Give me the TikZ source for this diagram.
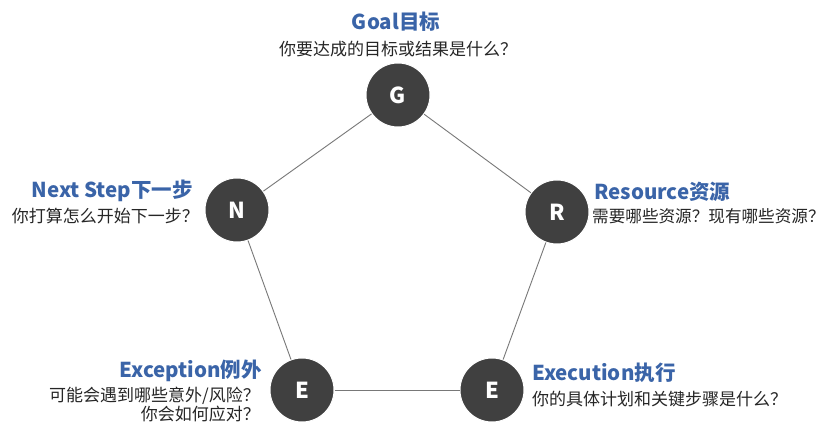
\documentclass[tikz,border=0pt]{standalone}
\usepackage{fontspec}
\setmainfont{Noto Sans CJK SC}
\newfontfamily\cjk{Noto Sans CJK SC}
\definecolor{ttl}{RGB}{58,100,168}
\definecolor{disc}{RGB}{64,64,64}
\definecolor{edge}{RGB}{120,120,120}
\begin{document}
\begin{tikzpicture}[x=1pt,y=-1pt,
  dot/.style={circle,fill=disc,draw=white,line width=1pt,minimum size=64pt,inner sep=0pt,text=white,font=\cjk\bfseries\fontsize{22}{22}\selectfont},
  head/.style={inner sep=0pt,text=ttl,font=\cjk\bfseries\fontsize{20.5}{20.5}\selectfont},
  sub/.style={inner sep=0pt,text=black!85,font=\cjk\fontsize{17}{19}\selectfont},
  link/.style={draw=edge,line width=0.9pt}]
\useasboundingbox (0,0) rectangle (830,427);
\fill[white] (0,0) rectangle (830,427);
\node[dot] (G) at (398,95) {G};
\node[dot] (N) at (237,210) {N};
\node[dot] (R) at (557,212) {R};
\node[dot] (EL) at (302,390) {E};
\node[dot] (ER) at (492,390) {E};
\draw[link] (G) -- (R);
\draw[link] (G) -- (N);
\draw[link] (N) -- (EL);
\draw[link] (R) -- (ER);
\draw[link] (EL) -- (ER);
\node[head] (gh) at (396,22) {Goal目标};
\node[sub] (gs) at (398,49) {你要达成的目标或结果是什么？};
\node[head,anchor=east] (nh) at (193,191) {Next Step下一步};
\node[sub,anchor=east] (ns) at (199,216) {你打算怎么开始下一步？};
\node[head,anchor=west] (rh) at (594,192) {Resource资源};
\node[sub,anchor=west,font=\cjk\fontsize{16.6}{19}\selectfont] (rs) at (592,216) {需要哪些资源？现有哪些资源？};
\node[head,anchor=east] (eh) at (262,371) {Exception例外};
\node[sub,anchor=north east,align=right] (es) at (260,387) {可能会遇到哪些意外/风险？\\你会如何应对？};
\node[head,anchor=west] (xh) at (532,373) {Execution执行};
\node[sub,anchor=west] (xs) at (532,399) {你的具体计划和关键步骤是什么？};
\end{tikzpicture}
\end{document}
